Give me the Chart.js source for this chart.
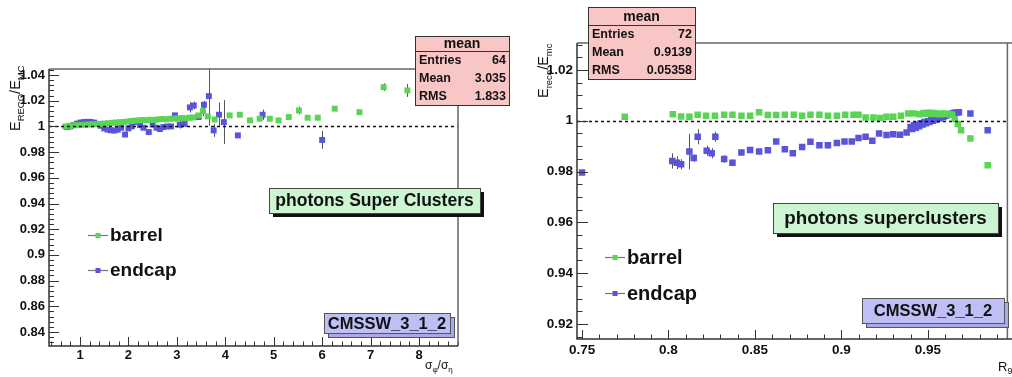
<!DOCTYPE html>
<html>
<head>
<meta charset="utf-8">
<script src="https://cdn.jsdelivr.net/npm/chart.js@4.4.1/dist/chart.umd.min.js"></script>
<style>
  html, body { margin: 0; padding: 0; background: #fff; width: 1012px; height: 377px; overflow: hidden; }
  canvas { position: absolute; top: 0; }
  #left { left: 0; }
  #right { left: 512px; }
</style>
</head>
<body>
<canvas id="left" width="512" height="377"></canvas>
<canvas id="right" width="500" height="377"></canvas>
<script>
// ---- left panel: E_RECO/E_MC vs sigma_phi/sigma_eta ----
const leftXTicks = [1, 2, 3, 4, 5, 6, 7, 8];
const leftYTicks = [0.84, 0.86, 0.88, 0.9, 0.92, 0.94, 0.96, 0.98, 1, 1.02, 1.04];

const leftBarrelX = [0.70, 0.78, 0.86, 0.94, 1.02, 1.10, 1.18, 1.26, 1.34, 1.42,
  1.50, 1.58, 1.66, 1.74, 1.82, 1.90, 1.98, 2.06, 2.14, 2.22,
  2.30, 2.38, 2.46, 2.54, 2.62, 2.70, 2.78, 2.86, 2.94, 3.02,
  3.10, 3.18, 3.26, 3.34, 3.44, 3.54, 3.64, 3.78, 4.09, 4.30,
  4.51, 4.71, 4.92, 5.10, 5.31, 5.52, 5.70, 5.91, 6.26, 6.77,
  7.27, 7.76];
const leftBarrelY = [1.0000, 1.0005, 1.0008, 1.0010, 1.0012, 1.0013, 1.0015, 1.0016, 1.0018, 1.0020,
  1.0022, 1.0025, 1.0028, 1.0030, 1.0033, 1.0035, 1.0038, 1.0042, 1.0045, 1.0047,
  1.0050, 1.0048, 1.0052, 1.0050, 1.0055, 1.0058, 1.0055, 1.0060, 1.0062, 1.0060,
  1.0065, 1.0063, 1.0068, 1.0070, 1.0085, 1.0120, 1.0078, 1.0054, 1.0086, 1.0091,
  1.0047, 1.0060, 1.0060, 1.0047, 1.0073, 1.0124, 1.0068, 1.0068, 1.0138, 1.0111,
  1.0306, 1.0280];
const leftBarrelErr = [0.0008, 0.0008, 0.0008, 0.0008, 0.0008, 0.0008, 0.0008, 0.0008, 0.0008, 0.0008,
  0.0008, 0.0008, 0.0008, 0.0008, 0.0008, 0.0008, 0.0008, 0.0008, 0.0008, 0.0008,
  0.0008, 0.0008, 0.0008, 0.0008, 0.0008, 0.0008, 0.0008, 0.0008, 0.0008, 0.0008,
  0.0008, 0.0008, 0.0008, 0.0008, 0.0015, 0.0040, 0.0020, 0.0020, 0.0015, 0.0015,
  0.0012, 0.0012, 0.0012, 0.0012, 0.0018, 0.0030, 0.0015, 0.0015, 0.0015, 0.0015,
  0.0030, 0.0050];

const leftEndcapX = [0.73, 0.80, 0.87, 0.94, 1.01, 1.08, 1.15, 1.22, 1.29, 1.36,
  1.43, 1.50, 1.57, 1.64, 1.71, 1.78, 1.85, 1.93, 2.00, 2.07,
  2.17, 2.24, 2.31, 2.42, 2.50, 2.58, 2.65, 2.72, 2.80, 2.88,
  2.96, 3.06, 3.16, 3.27, 3.35, 3.45, 3.56, 3.66, 3.76, 3.87,
  3.97, 4.26, 4.77, 6.00];
const leftEndcapY = [0.9995, 1.0000, 1.0012, 1.0022, 1.0030, 1.0034, 1.0036, 1.0035, 1.0030, 1.0020,
  1.0005, 0.9985, 0.9975, 0.9970, 0.9968, 0.9975, 0.9990, 0.9937, 0.9985, 1.0000,
  1.0034, 1.0010, 0.9990, 0.9956, 1.0015, 0.9990, 0.9980, 0.9995, 1.0000, 1.0000,
  1.0086, 1.0013, 1.0020, 1.0148, 1.0163, 1.0073, 1.0169, 1.0236, 0.9969, 1.0091,
  1.0034, 0.9930, 1.0091, 0.9895];
const leftEndcapErr = [0.0008, 0.0008, 0.0008, 0.0008, 0.0008, 0.0008, 0.0008, 0.0008, 0.0008, 0.0008,
  0.0008, 0.0008, 0.0008, 0.0008, 0.0008, 0.0008, 0.0008, 0.0012, 0.0008, 0.0008,
  0.0008, 0.0008, 0.0008, 0.0012, 0.0008, 0.0008, 0.0008, 0.0008, 0.0008, 0.0008,
  0.0020, 0.0030, 0.0015, 0.0040, 0.0030, 0.0020, 0.0030, 0.0230, 0.0050, 0.0095,
  0.0170, 0.0020, 0.0040, 0.0070];

const leftStatLabels = ['Entries', 'Mean', 'RMS'];
const leftStatValues = ['64', '3.035', '1.833'];

// ---- right panel: E_reco/E_mc vs R9 ----
const rightXTicks = [0.75, 0.8, 0.85, 0.9, 0.95];
const rightYTicks = [0.92, 0.94, 0.96, 0.98, 1, 1.02];

const rightBarrelX = [0.7747, 0.8025, 0.8073, 0.8121, 0.8169, 0.8217, 0.8269, 0.8322, 0.8370, 0.8422,
  0.8472, 0.8524, 0.8575, 0.8623, 0.8673, 0.8725, 0.8773, 0.8821, 0.8873, 0.8922,
  0.8974, 0.9022, 0.9070, 0.9099, 0.9140, 0.9185, 0.9223, 0.9261, 0.9300, 0.9344,
  0.9386, 0.9420, 0.9453, 0.9475, 0.9490, 0.9505, 0.9520, 0.9535, 0.9550, 0.9565,
  0.9580, 0.9595, 0.9610, 0.9625, 0.9640, 0.9655, 0.9673, 0.9692, 0.9746, 0.9846];
const rightBarrelY = [1.0016, 1.0026, 1.0017, 1.0016, 1.0024, 1.0020, 1.0020, 1.0024, 1.0024, 1.0020,
  1.0020, 1.0033, 1.0023, 1.0023, 1.0024, 1.0024, 1.0020, 1.0024, 1.0024, 1.0020,
  1.0020, 1.0024, 1.0024, 1.0024, 1.0013, 1.0013, 1.0011, 1.0016, 1.0016, 1.0020,
  1.0029, 1.0029, 1.0026, 1.0030, 1.0028, 1.0031, 1.0027, 1.0030, 1.0028, 1.0026,
  1.0029, 1.0027, 1.0028, 1.0026, 1.0024, 1.0007, 0.9987, 0.9963, 0.9930, 0.9825];
const rightBarrelErr = [0.0006, 0.0006, 0.0006, 0.0006, 0.0006, 0.0006, 0.0006, 0.0006, 0.0006, 0.0006,
  0.0006, 0.0006, 0.0006, 0.0006, 0.0006, 0.0006, 0.0006, 0.0006, 0.0006, 0.0006,
  0.0006, 0.0006, 0.0006, 0.0006, 0.0006, 0.0006, 0.0006, 0.0006, 0.0006, 0.0006,
  0.0006, 0.0006, 0.0006, 0.0006, 0.0006, 0.0006, 0.0006, 0.0006, 0.0006, 0.0006,
  0.0006, 0.0006, 0.0006, 0.0006, 0.0006, 0.0008, 0.0010, 0.0012, 0.0008, 0.0008];

const rightEndcapX = [0.7500, 0.8022, 0.8048, 0.8073, 0.8121, 0.8146, 0.8169, 0.8221, 0.8250, 0.8271,
  0.8322, 0.8370, 0.8422, 0.8472, 0.8524, 0.8575, 0.8623, 0.8673, 0.8719, 0.8773,
  0.8821, 0.8873, 0.8922, 0.8974, 0.9018, 0.9060, 0.9099, 0.9140, 0.9179, 0.9218,
  0.9261, 0.9300, 0.9339, 0.9377, 0.9400, 0.9410, 0.9420, 0.9430, 0.9440, 0.9450,
  0.9460, 0.9470, 0.9480, 0.9490, 0.9500, 0.9510, 0.9520, 0.9530, 0.9540, 0.9550,
  0.9560, 0.9570, 0.9580, 0.9590, 0.9600, 0.9610, 0.9620, 0.9630, 0.9640, 0.9650,
  0.9660, 0.9670, 0.9680, 0.9746, 0.9846];
const rightEndcapY = [0.9796, 0.9842, 0.9835, 0.9829, 0.9879, 0.9853, 0.9937, 0.9882, 0.9872, 0.9937,
  0.9849, 0.9835, 0.9875, 0.9885, 0.9879, 0.9884, 0.9918, 0.9888, 0.9872, 0.9897,
  0.9917, 0.9904, 0.9904, 0.9912, 0.9918, 0.9918, 0.9932, 0.9937, 0.9921, 0.9950,
  0.9944, 0.9947, 0.9945, 0.9954, 0.9975, 0.9968, 0.9982, 0.9972, 0.9985, 0.9978,
  0.9990, 0.9985, 0.9995, 0.9990, 0.9998, 0.9995, 1.0003, 1.0000, 1.0008, 1.0005,
  1.0012, 1.0010, 1.0017, 1.0015, 1.0020, 1.0022, 1.0024, 1.0026, 1.0028, 1.0030,
  1.0031, 1.0032, 1.0033, 1.0029, 0.9963];
const rightEndcapErr = [0.0008, 0.0030, 0.0025, 0.0020, 0.0070, 0.0015, 0.0030, 0.0020, 0.0020, 0.0020,
  0.0015, 0.0012, 0.0010, 0.0010, 0.0010, 0.0010, 0.0010, 0.0010, 0.0010, 0.0010,
  0.0008, 0.0008, 0.0008, 0.0008, 0.0008, 0.0008, 0.0008, 0.0008, 0.0008, 0.0008,
  0.0008, 0.0008, 0.0008, 0.0008, 0.0006, 0.0006, 0.0006, 0.0006, 0.0006, 0.0006,
  0.0006, 0.0006, 0.0006, 0.0006, 0.0006, 0.0006, 0.0006, 0.0006, 0.0006, 0.0006,
  0.0006, 0.0006, 0.0006, 0.0006, 0.0006, 0.0006, 0.0006, 0.0006, 0.0006, 0.0006,
  0.0006, 0.0006, 0.0006, 0.0008, 0.0008];

const rightStatLabels = ['Entries', 'Mean', 'RMS'];
const rightStatValues = ['72', '0.9139', '0.05358'];

const FONT = '"Liberation Sans", Arial, Helvetica, sans-serif';
const GREEN = '#59d454';
const BLUE = '#5954d9';

Chart.defaults.font.family = FONT;

const toPoints = (xs, ys) => xs.map((x, i) => ({ x, y: ys[i] }));

// draws a run of text pieces with subscripts, left to right from (x, y)
function richText(ctx, parts, x, y) {
  parts.forEach(p => {
    ctx.font = `${p.bold ? 'bold ' : ''}${p.size}px ${FONT}`;
    ctx.fillText(p.t, x, y + (p.dy || 0));
    x += ctx.measureText(p.t).width;
  });
}

function statsBox(ctx, x, y, w, h, headH, labels, values) {
  ctx.save();
  ctx.fillStyle = '#f9c6c6';
  ctx.fillRect(x, y, w, h);
  ctx.strokeStyle = '#333';
  ctx.lineWidth = 1;
  ctx.strokeRect(x + 0.5, y + 0.5, w, h);
  ctx.beginPath();
  ctx.moveTo(x, y + headH + 0.5);
  ctx.lineTo(x + w, y + headH + 0.5);
  ctx.stroke();
  ctx.fillStyle = '#111';
  ctx.textBaseline = 'middle';
  ctx.textAlign = 'center';
  ctx.font = `bold 14px ${FONT}`;
  ctx.fillText('mean', x + w / 2, y + headH / 2 + 1);
  ctx.font = `bold 12.5px ${FONT}`;
  const rowH = (h - headH) / labels.length;
  labels.forEach((l, i) => {
    const cy = y + headH + rowH * (i + 0.5) + 1;
    ctx.textAlign = 'left';
    ctx.fillText(l, x + 4, cy);
    ctx.textAlign = 'right';
    ctx.fillText(values[i], x + w - 3, cy);
  });
  ctx.restore();
}

function labelBox(ctx, x, y, w, h, text, size) {
  ctx.save();
  ctx.fillStyle = '#111';
  ctx.fillRect(x + 4, y + 4, w, h);
  ctx.fillStyle = '#ccf5d2';
  ctx.fillRect(x, y, w, h);
  ctx.strokeStyle = '#444';
  ctx.lineWidth = 1;
  ctx.strokeRect(x + 0.5, y + 0.5, w, h);
  ctx.fillStyle = '#111';
  ctx.font = `bold ${size}px ${FONT}`;
  ctx.textAlign = 'center';
  ctx.textBaseline = 'middle';
  ctx.fillText(text, x + w / 2, y + h / 2 + 1);
  ctx.restore();
}

function versionBox(ctx, x, y, w, h, size) {
  ctx.save();
  ctx.fillStyle = '#a9a9e6';
  ctx.fillRect(x + 4, y + 4, w, h);
  ctx.strokeStyle = '#555';
  ctx.lineWidth = 1;
  ctx.strokeRect(x + 4.5, y + 4.5, w, h);
  ctx.fillStyle = '#bfbff5';
  ctx.fillRect(x, y, w, h);
  ctx.strokeRect(x + 0.5, y + 0.5, w, h);
  ctx.fillStyle = '#111';
  ctx.font = `bold ${size}px ${FONT}`;
  ctx.textAlign = 'center';
  ctx.textBaseline = 'middle';
  ctx.fillText('CMSSW_3_1_2', x + w / 2, y + h / 2 + 1);
  ctx.restore();
}

function legend(ctx, x, y, gap, size, markSize) {
  ctx.save();
  [['barrel', GREEN], ['endcap', BLUE]].forEach(([name, col], i) => {
    const cy = y + i * gap;
    ctx.strokeStyle = '#777';
    ctx.lineWidth = 1.2;
    ctx.beginPath();
    ctx.moveTo(x, cy + 0.5);
    ctx.lineTo(x + 20, cy + 0.5);
    ctx.stroke();
    ctx.fillStyle = col;
    ctx.fillRect(x + 10 - markSize / 2, cy - markSize / 2 + 0.5, markSize, markSize);
    ctx.fillStyle = '#111';
    ctx.font = `bold ${size}px ${FONT}`;
    ctx.textBaseline = 'middle';
    ctx.textAlign = 'left';
    ctx.fillText(name, x + 22, cy + 1);
  });
  ctx.restore();
}

// inner ROOT-style tick marks plus frame
function frame(chart, t) {
  const { ctx, chartArea: a, scales: { x, y } } = chart;
  ctx.save();
  ctx.strokeStyle = '#333';
  ctx.lineWidth = 1;
  ctx.beginPath();
  const k0 = Math.ceil(x.min / t.xMinor - 1e-6);
  for (let k = k0; k * t.xMinor <= x.max + 1e-9; k++) {
    const v = k * t.xMinor;
    const major = t.xMajor.some(m => Math.abs(m - v) < t.xMinor / 10);
    const px = Math.round(x.getPixelForValue(v)) + 0.5;
    ctx.moveTo(px, a.bottom);
    ctx.lineTo(px, a.bottom - (major ? t.xLen : t.xLen / 2));
  }
  const j0 = Math.ceil(y.min / t.yMinor - 1e-6);
  for (let k = j0; k * t.yMinor <= y.max + 1e-9; k++) {
    const v = k * t.yMinor;
    const major = t.yMajor.some(m => Math.abs(m - v) < t.yMinor / 10);
    const py = Math.round(y.getPixelForValue(v)) + 0.5;
    ctx.moveTo(a.left, py);
    ctx.lineTo(a.left + (major ? t.yLen : t.yLen / 2), py);
  }
  ctx.stroke();
  ctx.lineWidth = 1.5;
  ctx.strokeStyle = '#666';
  ctx.beginPath();
  ctx.moveTo(a.left, a.top);
  ctx.lineTo(t.frameRight, a.top);
  ctx.moveTo(a.right, a.top);
  ctx.lineTo(a.right, a.bottom);
  ctx.stroke();
  ctx.strokeStyle = '#333';
  ctx.beginPath();
  ctx.moveTo(a.left, a.top);
  ctx.lineTo(a.left, a.bottom);
  ctx.lineTo(t.axisRight, a.bottom);
  ctx.stroke();
  ctx.restore();
}

// vertical error bars under the markers, dotted line at 1 over them
const errorBars = {
  id: 'errorBars',
  beforeDatasetsDraw(chart) {
    const { ctx, chartArea: a, scales: { y } } = chart;
    ctx.save();
    ctx.beginPath();
    ctx.rect(a.left, a.top, a.right - a.left, a.bottom - a.top);
    ctx.clip();
    ctx.strokeStyle = '#555';
    ctx.lineWidth = 1;
    chart.data.datasets.forEach((ds, i) => {
      const meta = chart.getDatasetMeta(i);
      ctx.beginPath();
      ds.data.forEach((d, j) => {
        const px = Math.round(meta.data[j].x) + 0.5;
        ctx.moveTo(px, y.getPixelForValue(d.y - ds.errors[j]));
        ctx.lineTo(px, y.getPixelForValue(d.y + ds.errors[j]));
      });
      ctx.stroke();
    });
    ctx.restore();
  },
  afterDatasetsDraw(chart) {
    const { ctx, chartArea: a, scales: { y } } = chart;
    const p1 = Math.round(y.getPixelForValue(1)) + 0.5;
    ctx.save();
    ctx.strokeStyle = '#111';
    ctx.lineWidth = 1.5;
    ctx.setLineDash([3, 3]);
    ctx.beginPath();
    ctx.moveTo(a.left, p1);
    ctx.lineTo(a.right, p1);
    ctx.stroke();
    ctx.restore();
  }
};

function scaleOpts(min, max, ticks, size, fitKey, fitVal, pad) {
  return {
    type: 'linear',
    min, max,
    afterFit: s => { s[fitKey] = fitVal; },
    afterBuildTicks: s => { s.ticks = ticks.map(v => ({ value: v })); },
    grid: { display: false, drawTicks: false },
    border: { display: false },
    ticks: {
      autoSkip: false,
      maxRotation: 0,
      padding: pad,
      color: '#111',
      font: { size, weight: 'bold' },
      callback: v => String(v)
    }
  };
}

function makeChart(id, cfg) {
  return new Chart(document.getElementById(id), {
    type: 'scatter',
    data: {
      datasets: [
        { label: 'barrel', data: toPoints(cfg.bx, cfg.by), errors: cfg.be,
          backgroundColor: GREEN, borderWidth: 0, pointStyle: 'rect', pointRadius: cfg.radius },
        { label: 'endcap', data: toPoints(cfg.ex, cfg.ey), errors: cfg.ee,
          backgroundColor: BLUE, borderWidth: 0, pointStyle: 'rect', pointRadius: cfg.radius }
      ]
    },
    options: {
      responsive: false,
      animation: false,
      devicePixelRatio: 1,
      layout: { padding: cfg.padding },
      plugins: { legend: { display: false }, tooltip: { enabled: false } },
      scales: {
        x: scaleOpts(cfg.xMin, cfg.xMax, cfg.xTicks, cfg.tickSize, 'height', cfg.xH, cfg.xPad),
        y: scaleOpts(cfg.yMin, cfg.yMax, cfg.yTicks, cfg.tickSize, 'width', cfg.yW, 4)
      }
    },
    plugins: [errorBars, { id: 'decor', afterDraw: chart => cfg.decor(chart) }]
  });
}

makeChart('left', {
  bx: leftBarrelX, by: leftBarrelY, be: leftBarrelErr,
  ex: leftEndcapX, ey: leftEndcapY, ee: leftEndcapErr,
  radius: 4.2,
  xMin: 0.36, xMax: 8.805, yMin: 0.8291, yMax: 1.0447,
  xTicks: leftXTicks, yTicks: leftYTicks, tickSize: 13,
  padding: { left: 0, top: 69, right: 54, bottom: 0 }, xH: 31, yW: 49, xPad: 2,
  decor(chart) {
    const ctx = chart.ctx;
    frame(chart, { xMajor: leftXTicks, xMinor: 0.2, yMajor: leftYTicks, yMinor: 0.004,
      xLen: 9, yLen: 10, frameRight: 458, axisRight: 458 });
    ctx.save();
    ctx.fillStyle = '#111';
    ctx.textBaseline = 'alphabetic';
    ctx.translate(20, 131);
    ctx.rotate(-Math.PI / 2);
    richText(ctx, [{ t: 'E', size: 14.5 }, { t: 'RECO', size: 9.5, dy: 4 }, { t: '/', size: 14.5 },
      { t: 'E', size: 14.5 }, { t: 'MC', size: 9.5, dy: 4 }], 0, 0);
    ctx.restore();
    ctx.save();
    ctx.fillStyle = '#111';
    richText(ctx, [{ t: 'σ', size: 12 }, { t: 'φ', size: 8, dy: 3 }, { t: '/', size: 12 },
      { t: 'σ', size: 12 }, { t: 'η', size: 8, dy: 3 }], 425, 369);
    ctx.restore();
    statsBox(ctx, 415, 36, 94, 69, 15, leftStatLabels, leftStatValues);
    labelBox(ctx, 269, 188, 211, 25, 'photons Super Clusters', 17.5);
    versionBox(ctx, 324, 313, 126, 20, 16.5);
    legend(ctx, 88, 235, 35, 19, 5);
  }
});

makeChart('right', {
  bx: rightBarrelX, by: rightBarrelY, be: rightBarrelErr,
  ex: rightEndcapX, ey: rightEndcapY, ee: rightEndcapErr,
  radius: 4.6,
  xMin: 0.7471, xMax: 0.996, yMin: 0.9141, yMax: 1.0306,
  xTicks: rightXTicks, yTicks: rightYTicks, tickSize: 13.5,
  padding: { left: 0, top: 43, right: 2, bottom: 0 }, xH: 38, yW: 65, xPad: 3,
  decor(chart) {
    const ctx = chart.ctx;
    frame(chart, { xMajor: rightXTicks, xMinor: 0.01, yMajor: rightYTicks, yMinor: 0.005,
      xLen: 9, yLen: 11, frameRight: 500, axisRight: 500 });
    ctx.save();
    ctx.fillStyle = '#111';
    ctx.translate(36, 98);
    ctx.rotate(-Math.PI / 2);
    richText(ctx, [{ t: 'E', size: 14.5 }, { t: 'reco', size: 9.5, dy: 4 }, { t: '/', size: 14.5 },
      { t: 'E', size: 14.5 }, { t: 'mc', size: 9.5, dy: 4 }], 0, 0);
    ctx.restore();
    ctx.save();
    ctx.fillStyle = '#111';
    richText(ctx, [{ t: 'R', size: 13 }, { t: '9', size: 9, dy: 3 }], 486, 371);
    ctx.restore();
    statsBox(ctx, 76, 7, 107, 72, 18, rightStatLabels, rightStatValues);
    labelBox(ctx, 261, 203, 225, 30, 'photons superclusters', 18.8);
    versionBox(ctx, 350, 298, 142, 25, 16.5);
    legend(ctx, 93, 257, 36, 20, 5);
  }
});
</script>
</body>
</html>
